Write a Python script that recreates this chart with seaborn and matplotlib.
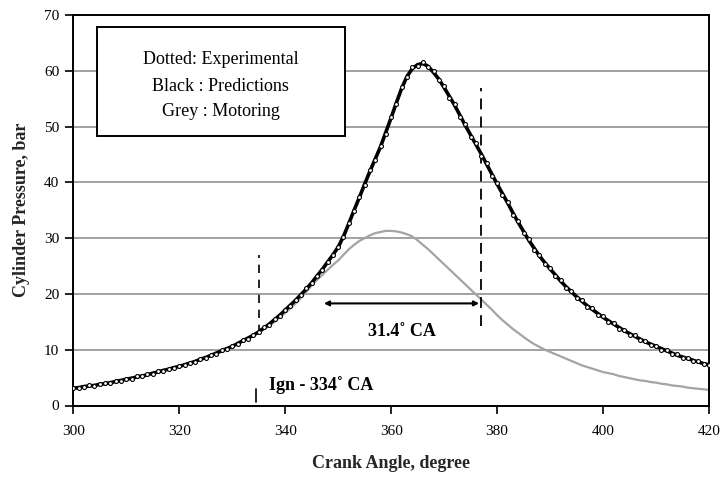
import matplotlib
matplotlib.use("Agg")
import matplotlib.pyplot as plt
from matplotlib.patches import Rectangle
import seaborn as sns
import numpy as np
import pandas as pd

# ---------------- data ----------------
crank_angle = list(range(300, 421))

predictions = [
    3.1, 3.2, 3.4, 3.5, 3.6, 3.8, 3.9, 4.1, 4.3, 4.5,
    4.7, 4.9, 5.1, 5.3, 5.5, 5.8, 6.0, 6.3, 6.5, 6.8,
    7.0, 7.3, 7.6, 7.9, 8.3, 8.6, 9.0, 9.4, 9.8, 10.2,
    10.6, 11.1, 11.6, 12.1, 12.6, 13.2, 13.9, 14.6, 15.4, 16.2,
    17.1, 18.0, 18.9, 19.9, 20.9, 22.0, 23.2, 24.4, 25.7, 27.0,
    28.4, 30.3, 32.6, 35.0, 37.3, 39.7, 42.0, 44.2, 46.4, 49.0,
    51.6, 54.3, 56.9, 59.0, 60.4, 61.1, 61.3, 60.8, 59.7, 58.5,
    57.0, 55.4, 53.8, 52.0, 50.2, 48.5, 46.8, 45.1, 43.3, 41.5,
    39.7, 38.0, 36.3, 34.5, 32.8, 31.2, 29.6, 28.2, 26.8, 25.6,
    24.5, 23.4, 22.3, 21.3, 20.4, 19.5, 18.7, 17.9, 17.2, 16.5,
    15.8, 15.2, 14.6, 14.0, 13.4, 12.9, 12.4, 11.9, 11.4, 11.0,
    10.6, 10.2, 9.8, 9.4, 9.0, 8.7, 8.4, 8.1, 7.8, 7.5,
    7.3,
]

experimental = [
    3.2, 3.1, 3.3, 3.6, 3.5, 3.8, 4.0, 4.0, 4.4, 4.4,
    4.8, 4.8, 5.2, 5.2, 5.6, 5.7, 6.1, 6.2, 6.6, 6.7,
    7.1, 7.2, 7.7, 7.8, 8.4, 8.5, 9.1, 9.3, 9.9, 10.1,
    10.7, 11.0, 11.7, 12.0, 12.7, 13.1, 14.0, 14.5, 15.5, 16.1,
    17.2, 17.9, 19.0, 19.8, 21.0, 21.9, 23.3, 24.3, 25.8, 26.9,
    28.5, 30.2, 32.7, 34.8, 37.4, 39.5, 42.2, 44.0, 46.6, 48.7,
    51.8, 54.0, 57.1, 58.8, 60.6, 60.9, 61.5, 60.6, 59.9, 58.3,
    57.2, 55.1, 54.0, 51.7, 50.4, 48.2, 47.0, 44.8, 43.5, 41.2,
    39.9, 37.7, 36.5, 34.2, 33.0, 30.9, 29.8, 27.9, 27.0, 25.4,
    24.7, 23.2, 22.5, 21.1, 20.6, 19.3, 18.9, 17.7, 17.4, 16.3,
    16.0, 15.0, 14.8, 13.8, 13.6, 12.7, 12.6, 11.7, 11.6, 10.8,
    10.7, 10.0, 9.9, 9.2, 9.2, 8.5, 8.6, 8.0, 7.9, 7.4,
    7.3,
]

motoring = [
    3.1, 3.2, 3.4, 3.5, 3.6, 3.8, 3.9, 4.1, 4.3, 4.5,
    4.7, 4.9, 5.1, 5.3, 5.5, 5.8, 6.0, 6.3, 6.5, 6.8,
    7.0, 7.3, 7.6, 7.9, 8.3, 8.6, 9.0, 9.4, 9.8, 10.2,
    10.6, 11.1, 11.6, 12.1, 12.6, 13.1, 13.7, 14.3, 15.0, 15.8,
    16.6, 17.4, 18.3, 19.3, 20.4, 21.5, 22.5, 23.4, 24.3, 25.2,
    26.0, 27.0, 28.0, 28.8, 29.5, 30.0, 30.5, 30.9, 31.1, 31.3,
    31.3, 31.2, 31.0, 30.7, 30.3, 29.6, 28.8, 28.0, 27.1, 26.2,
    25.3, 24.4, 23.5, 22.6, 21.7, 20.8, 19.9, 19.0, 18.1, 17.2,
    16.2, 15.3, 14.5, 13.7, 13.0, 12.3, 11.6, 11.0, 10.5, 10.0,
    9.6, 9.2, 8.8, 8.4, 8.0, 7.6, 7.2, 6.9, 6.6, 6.3,
    6.0, 5.8, 5.6, 5.3, 5.1, 4.9, 4.7, 4.5, 4.4, 4.2,
    4.1, 3.9, 3.8, 3.6, 3.5, 3.4, 3.2, 3.1, 3.0, 2.9,
    2.8,
]

x_ticks = [300, 320, 340, 360, 380, 400, 420]
y_ticks = [0, 10, 20, 30, 40, 50, 60, 70]

legend_lines = ["Dotted: Experimental", "Black : Predictions", "Grey : Motoring"]
ignition_angle = 334.5
duration_start = 347.3
duration_end = 376.6
duration_label = "31.4\u02da CA"
ignition_label = "Ign - 334\u02da CA"

# ---------------- figure ----------------
sns.set_theme(style="white")
plt.rcParams["font.family"] = ["Liberation Serif", "DejaVu Serif"]

df = pd.DataFrame({"angle": crank_angle, "pred": predictions,
                   "exp": experimental, "mot": motoring})

fig = plt.figure(figsize=(7.22, 4.83), dpi=100)
ax = fig.add_axes([73.3 / 722, 1 - 405.5 / 483, 635.7 / 722, 390.5 / 483])

ax.set_xlim(300, 420)
ax.set_ylim(0, 70)
ax.set_xticks(x_ticks)
ax.set_yticks(y_ticks)
ax.yaxis.grid(True, color="#9a9a9a", linewidth=1.3)
ax.xaxis.grid(False)
ax.set_axisbelow(True)

sns.lineplot(data=df, x="angle", y="mot", color="#a4a4a4", linewidth=1.6, ax=ax)
sns.lineplot(data=df, x="angle", y="pred", color="black", linewidth=2.6, ax=ax)
sns.scatterplot(data=df, x="angle", y="exp", marker="o", s=8,
                facecolor="white", edgecolor="black", linewidth=0.8, ax=ax, zorder=3)

for sp in ax.spines.values():
    sp.set_visible(True)
    sp.set_color("black")
    sp.set_linewidth(1.4)

ax.tick_params(axis="both", direction="out", length=6, width=1.2, color="black",
               labelsize=11, labelcolor="black", pad=4)
ax.tick_params(axis="x", pad=8)
ax.tick_params(left=True, bottom=True)

ax.set_xlabel("Crank Angle, degree", fontsize=13, fontweight="bold", labelpad=12)
ax.set_ylabel("Cylinder Pressure, bar", fontsize=13, fontweight="bold", labelpad=10)

# dashed markers
ax.plot([335, 335], [13.0, 27.0], color="black", linestyle=(0, (5, 4)), linewidth=1.2)
ax.plot([377, 377], [14.2, 57.0], color="black", linestyle=(0, (6, 4)), linewidth=1.3)
ax.plot([ignition_angle, ignition_angle], [0.7, 2.9], color="black", linewidth=1.2)

ax.annotate("", xy=(duration_end, 18.3), xytext=(duration_start, 18.3),
            arrowprops=dict(arrowstyle="<|-|>", color="black", lw=1.5,
                            mutation_scale=7, shrinkA=0, shrinkB=0))
ax.text(362.0, 13.3, duration_label, fontsize=13, fontweight="bold",
        ha="center", va="center", color="black")
ax.text(337.0, 3.7, ignition_label, fontsize=13, fontweight="bold",
        ha="left", va="center", color="black")

# legend box
ax.add_patch(Rectangle((0.037, 0.690), 0.390, 0.279, transform=ax.transAxes,
                       facecolor="white", edgecolor="black", linewidth=1.4, zorder=4))
for txt, yy in zip(legend_lines, [0.885, 0.818, 0.754]):
    ax.text(0.232, yy, txt, transform=ax.transAxes, ha="center", va="center",
            fontsize=13, color="black", zorder=5)

fig.savefig("out.png", dpi=100)
